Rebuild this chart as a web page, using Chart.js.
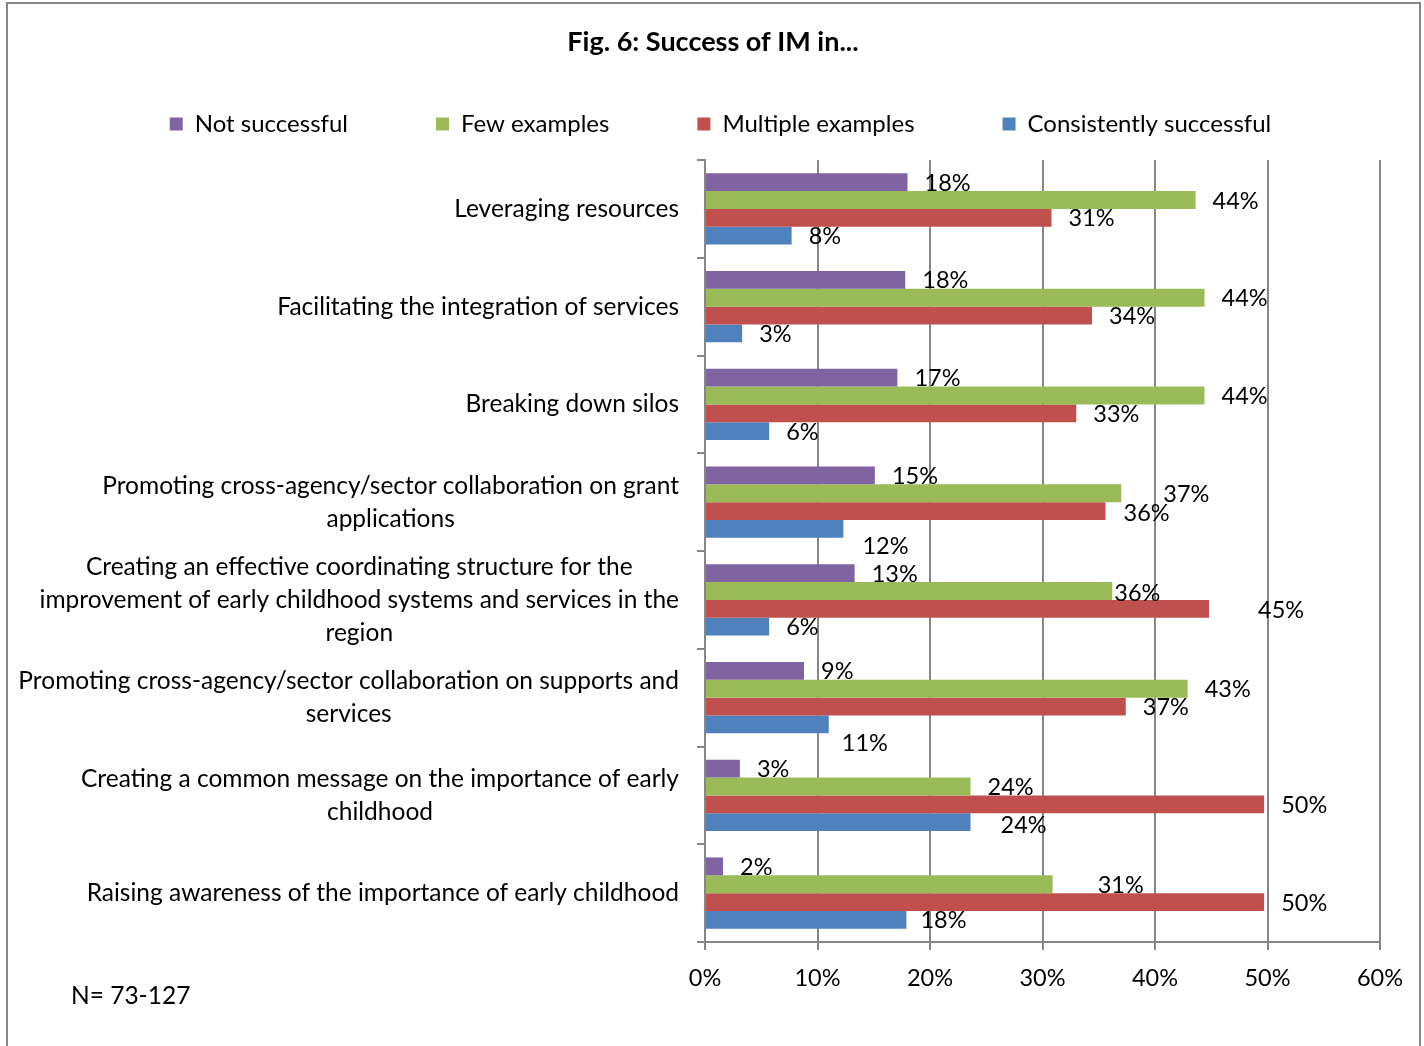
<!DOCTYPE html>
<html>
<head>
<meta charset="utf-8">
<script src="https://cdn.jsdelivr.net/npm/chart.js@4.4.1/dist/chart.umd.min.js"></script>
<style>
html,body{margin:0;padding:0;background:#fff;}
#wrap{position:relative;width:1424px;height:1046px;}
</style>
</head>
<body>
<div id="wrap"><canvas id="c" width="1424" height="1046"></canvas></div>
<script>
// ---- data ----
const chartTitle = 'Fig. 6: Success of IM in...';
const footNote = 'N= 73-127';
const categories = [
  ['Leveraging resources'],
  ['Facilitating the integration of services'],
  ['Breaking down silos'],
  ['Promoting cross-agency/sector collaboration on grant', 'applications'],
  ['Creating an effective coordinating structure for the', 'improvement of early childhood systems and services in the', 'region'],
  ['Promoting cross-agency/sector collaboration on supports and', 'services'],
  ['Creating a common message on the importance of early', 'childhood'],
  ['Raising awareness of the importance of early childhood']
];
const seriesNames = ['Not successful', 'Few examples', 'Multiple examples', 'Consistently successful'];
const notSuccessful = [18.0, 17.8, 17.1, 15.1, 13.3, 8.8, 3.1, 1.6];
const fewExamples = [43.6, 44.4, 44.4, 37.0, 36.2, 42.9, 23.6, 30.9];
const multipleExamples = [30.8, 34.4, 33.0, 35.6, 44.8, 37.4, 49.7, 49.7];
const consistentlySuccessful = [7.7, 3.3, 5.7, 12.3, 5.7, 11.0, 23.6, 17.9];
const xTickValues = [0, 10, 20, 30, 40, 50, 60];

// ---- styles ----
const seriesColors = ['#8064A2', '#9BBB59', '#C0504D', '#4F81BD'];
const axisGray = '#868686';
const FONT = 'Lato';
const TEXT_SIZE = 24.5;
const NUM_SIZE = 23.5;
// label nudges (dx, dy in px) for data labels that Excel displaced: key "dataset:index"
const labelNudges = {
  '1:3': [25, 0], '2:3': [1, 1], '3:3': [2, 17],
  '1:4': [-15, 1], '2:4': [32, 1],
  '3:5': [-4, 18],
  '3:6': [13, 2],
  '1:7': [28, 0], '3:7': [-3, 0]
};

Chart.defaults.font.family = FONT;
Chart.defaults.color = '#000';

const decor = {
  id: 'decor',
  beforeDraw(chart) {
    const ctx = chart.ctx;
    ctx.save();
    ctx.fillStyle = '#fff';
    ctx.fillRect(0, 0, chart.width, chart.height);
    ctx.restore();
  },
  afterDatasetsDraw(chart) {
    const ctx = chart.ctx;
    ctx.save();
    ctx.font = NUM_SIZE + 'px ' + FONT;
    ctx.fillStyle = '#000';
    ctx.textAlign = 'left';
    ctx.textBaseline = 'middle';
    chart.data.datasets.forEach((ds, di) => {
      const meta = chart.getDatasetMeta(di);
      meta.data.forEach((el, i) => {
        const n = labelNudges[di + ':' + i] || [0, 0];
        ctx.fillText(Math.round(ds.data[i]) + '%', el.x + 17 + n[0], el.y + 1 + n[1]);
      });
    });
    ctx.restore();
  },
  afterDraw(chart) {
    const ctx = chart.ctx;
    ctx.save();
    ctx.strokeStyle = axisGray;
    ctx.lineWidth = 2;
    ctx.strokeRect(7, 3, 1413, 1100);
    ctx.fillStyle = '#000';
    ctx.font = 'bold 27px ' + FONT;
    ctx.textAlign = 'center';
    ctx.textBaseline = 'middle';
    ctx.fillText(chartTitle, 713, 42);
    ctx.font = '24.5px ' + FONT;
    ctx.textAlign = 'left';
    ctx.fillText(footNote, 71, 996);
    // category labels: block right-aligned to the axis, lines centred within block
    ctx.font = TEXT_SIZE + 'px ' + FONT;
    const ys = chart.scales.y;
    ctx.textAlign = 'center';
    chart.data.labels.forEach((lines, i) => {
      const cy = ys.getPixelForValue(i);
      const bw = Math.max(...lines.map(l => ctx.measureText(l).width));
      const cx = ys.right - 26 - bw / 2;
      const lh = 33;
      lines.forEach((l, k) => {
        ctx.fillText(l, cx, cy + (k - (lines.length - 1) / 2) * lh);
      });
    });
    ctx.restore();
  }
};

const datasets = [notSuccessful, fewExamples, multipleExamples, consistentlySuccessful].map((d, i) => ({
  label: seriesNames[i],
  data: d,
  backgroundColor: seriesColors[i],
  borderWidth: 0,
  categoryPercentage: 0.73,
  barPercentage: 1.0
}));

new Chart(document.getElementById('c'), {
  type: 'bar',
  data: { labels: categories, datasets },
  options: {
    indexAxis: 'y',
    responsive: false,
    animation: false,
    layout: { padding: { top: 24, left: 61, right: 44, bottom: 0 } },
    plugins: {
      title: { display: false },
      subtitle: { display: true, text: '', weight: 500, padding: 0, font: { size: 14, lineHeight: 1 } },
      legend: {
        position: 'top',
        align: 'center',
        labels: { boxWidth: 13, boxHeight: 13, padding: 88, font: { size: 24 }, color: '#000' }
      },
      tooltip: { enabled: false }
    },
    scales: {
      x: {
        type: 'linear', position: 'bottom', min: 0, max: 60,
        afterBuildTicks: s => { s.ticks = xTickValues.map(v => ({ value: v })); },
        ticks: { callback: v => v + '%', font: { size: NUM_SIZE }, color: '#000', padding: 14, maxRotation: 0 },
        grid: { color: axisGray, lineWidth: 2, tickLength: 8, drawTicks: true },
        border: { color: axisGray, width: 2 },
        afterFit: s => { s.height = 104; }
      },
      y: {
        type: 'category', position: 'left', offset: true,
        ticks: { display: false },
        grid: { offset: true, drawOnChartArea: false, drawTicks: true, tickLength: 8, color: axisGray, lineWidth: 2 },
        border: { color: axisGray, width: 2 },
        afterFit: s => { s.width = 705 - 61; }
      }
    }
  },
  plugins: [decor]
});
</script>
</body>
</html>
